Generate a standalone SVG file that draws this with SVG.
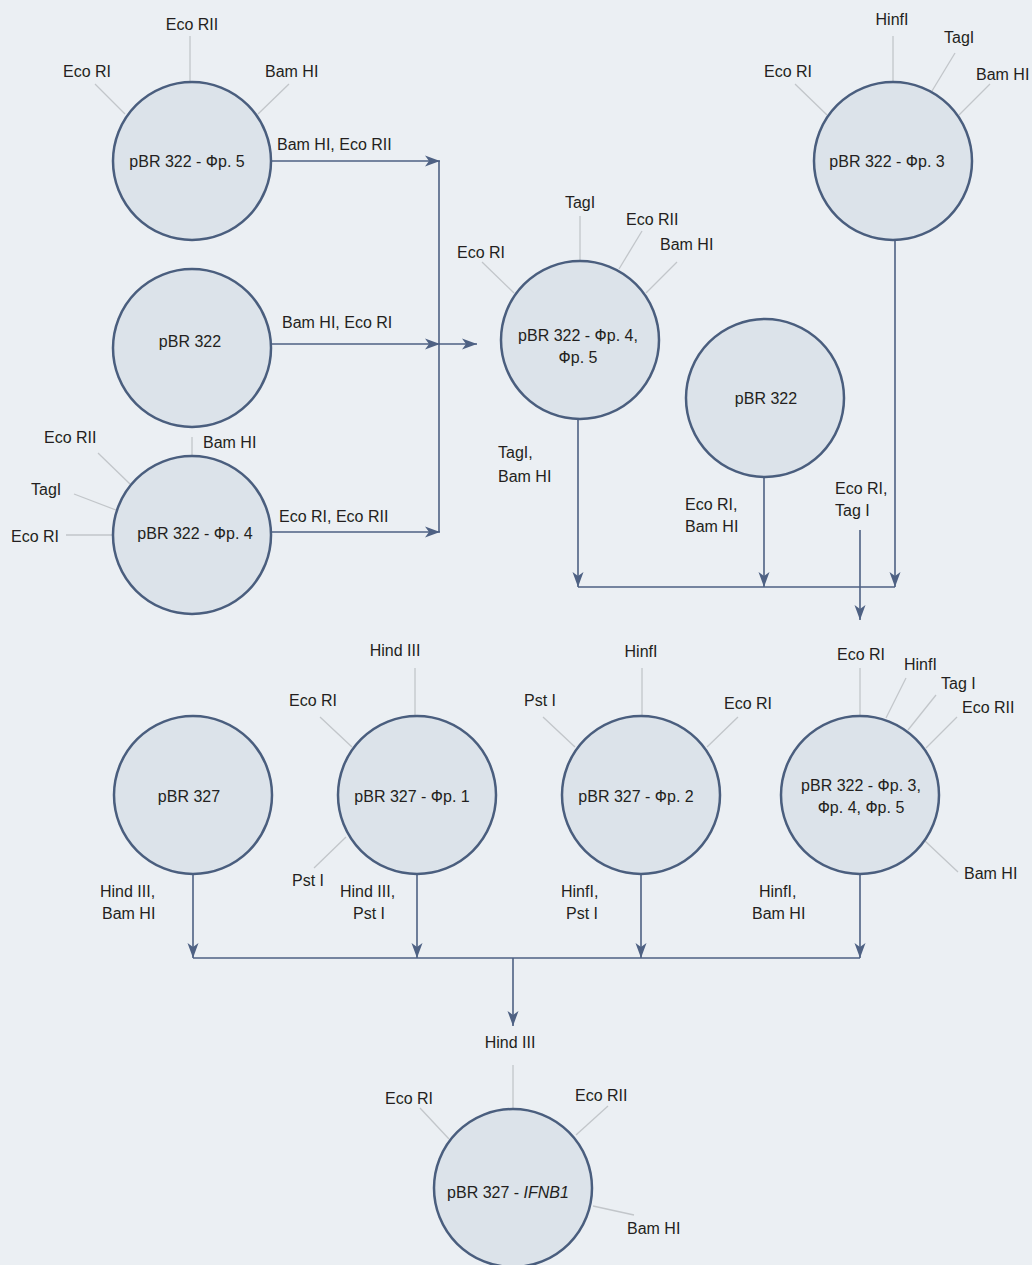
<svg xmlns="http://www.w3.org/2000/svg" width="1032" height="1265" viewBox="0 0 1032 1265">
<defs>
<marker id="ah" markerUnits="userSpaceOnUse" markerWidth="16" markerHeight="12" refX="15" refY="6" orient="auto">
<path d="M0,0.5 L15,6 L0,11.5 L4,6 z" fill="#4e6183"/>
</marker>
<style>
.bg{fill:#ebeff3}
.n{fill:#dce3ea;stroke:#4a5e7e;stroke-width:2.5}
.sp{stroke:#c2c6ca;stroke-width:1.3;fill:none}
.c{stroke:#4e6183;stroke-width:1.6;fill:none}
.ca{stroke:#4e6183;stroke-width:1.6;fill:none;marker-end:url(#ah)}
text{font-family:"Liberation Sans",Arial,sans-serif;font-size:16px;fill:#231f20}
.m{text-anchor:middle}
</style>
</defs>
<rect class="bg" x="0" y="0" width="1032" height="1265"/>

<g id="connectors">
<line class="ca" x1="271" y1="161" x2="440" y2="161"/>
<line class="c" x1="439" y1="161" x2="439" y2="532"/>
<line class="ca" x1="271" y1="344" x2="440" y2="344"/>
<line class="ca" x1="439" y1="344" x2="477" y2="344"/>
<line class="ca" x1="271" y1="532" x2="440" y2="532"/>
<text x="277" y="150">Bam HI, Eco RII</text>
<text x="282" y="328">Bam HI, Eco RI</text>
<text x="279" y="522">Eco RI, Eco RII</text>

<line class="ca" x1="578" y1="419" x2="578" y2="587"/>
<line class="ca" x1="764" y1="477" x2="764" y2="587"/>
<line class="ca" x1="895" y1="240" x2="895" y2="587"/>
<line class="c" x1="578" y1="587" x2="895" y2="587"/>
<line class="ca" x1="860" y1="530" x2="860" y2="620"/>
<text x="498" y="458">TagI,</text>
<text x="498" y="482">Bam HI</text>
<text x="685" y="510">Eco RI,</text>
<text x="685" y="532">Bam HI</text>
<text x="835" y="494">Eco RI,</text>
<text x="835" y="516">Tag I</text>

<line class="ca" x1="193" y1="874" x2="193" y2="958"/>
<line class="ca" x1="417" y1="874" x2="417" y2="958"/>
<line class="ca" x1="641" y1="874" x2="641" y2="958"/>
<line class="ca" x1="860" y1="874" x2="860" y2="958"/>
<line class="c" x1="193" y1="958" x2="860" y2="958"/>
<line class="ca" x1="513" y1="958" x2="513" y2="1026"/>
<text x="100" y="897">Hind III,</text>
<text x="102" y="919">Bam HI</text>
<text x="340" y="897">Hind III,</text>
<text x="353" y="919">Pst I</text>
<text x="561" y="897">HinfI,</text>
<text x="566" y="919">Pst I</text>
<text x="759" y="897">HinfI,</text>
<text x="752" y="919">Bam HI</text>
</g>

<g id="n-fr5">
<line class="sp" x1="190" y1="36" x2="190" y2="82"/>
<line class="sp" x1="95" y1="84" x2="125" y2="114"/>
<line class="sp" x1="289" y1="84" x2="258" y2="114"/>
<circle class="n" cx="192" cy="161" r="79"/>
<text class="m" x="187" y="167">pBR 322 - Фр. 5</text>
<text class="m" x="192" y="30">Eco RII</text>
<text x="63" y="77">Eco RI</text>
<text x="265" y="77">Bam HI</text>
</g>

<g id="n-pbr322a">
<circle class="n" cx="192" cy="348" r="79"/>
<text class="m" x="190" y="347">pBR 322</text>
</g>

<g id="n-fr4">
<line class="sp" x1="192" y1="437" x2="192" y2="456"/>
<line class="sp" x1="98" y1="453" x2="130" y2="484"/>
<line class="sp" x1="74" y1="494" x2="116" y2="510"/>
<line class="sp" x1="66" y1="535" x2="112" y2="535"/>
<circle class="n" cx="192" cy="535" r="79"/>
<text class="m" x="195" y="539">pBR 322 - Фр. 4</text>
<text x="203" y="448">Bam HI</text>
<text x="44" y="443">Eco RII</text>
<text x="31" y="495">TagI</text>
<text x="11" y="542">Eco RI</text>
</g>

<g id="n-fr45">
<line class="sp" x1="580" y1="216" x2="580" y2="261"/>
<line class="sp" x1="642" y1="231" x2="619" y2="269"/>
<line class="sp" x1="677" y1="262" x2="646" y2="293"/>
<line class="sp" x1="482" y1="262" x2="514" y2="293"/>
<circle class="n" cx="580" cy="340" r="79"/>
<text class="m" x="578" y="341">pBR 322 - Фр. 4,</text>
<text class="m" x="578" y="363">Фр. 5</text>
<text class="m" x="580" y="208">TagI</text>
<text x="626" y="225">Eco RII</text>
<text x="660" y="250">Bam HI</text>
<text x="457" y="258">Eco RI</text>
</g>

<g id="n-pbr322b">
<circle class="n" cx="765" cy="398" r="79"/>
<text class="m" x="766" y="404">pBR 322</text>
</g>

<g id="n-fr3">
<line class="sp" x1="893" y1="36" x2="893" y2="82"/>
<line class="sp" x1="955" y1="53" x2="932" y2="91"/>
<line class="sp" x1="990" y1="84" x2="959" y2="115"/>
<line class="sp" x1="795" y1="84" x2="827" y2="115"/>
<circle class="n" cx="893" cy="161" r="79"/>
<text class="m" x="887" y="167">pBR 322 - Фр. 3</text>
<text class="m" x="892" y="25">HinfI</text>
<text x="944" y="43">TagI</text>
<text x="976" y="80">Bam HI</text>
<text x="764" y="77">Eco RI</text>
</g>

<g id="n-pbr327">
<circle class="n" cx="193" cy="795" r="79"/>
<text class="m" x="189" y="802">pBR 327</text>
</g>

<g id="n-327fr1">
<line class="sp" x1="415" y1="668" x2="415" y2="716"/>
<line class="sp" x1="320" y1="717" x2="352" y2="747"/>
<line class="sp" x1="346" y1="837" x2="314" y2="868"/>
<circle class="n" cx="417" cy="795" r="79"/>
<text class="m" x="412" y="802">pBR 327 - Фр. 1</text>
<text class="m" x="395" y="656">Hind III</text>
<text x="289" y="706">Eco RI</text>
<text x="292" y="886">Pst I</text>
</g>

<g id="n-327fr2">
<line class="sp" x1="642" y1="668" x2="642" y2="716"/>
<line class="sp" x1="543" y1="717" x2="575" y2="747"/>
<line class="sp" x1="738" y1="717" x2="707" y2="747"/>
<circle class="n" cx="641" cy="795" r="79"/>
<text class="m" x="636" y="802">pBR 327 - Фр. 2</text>
<text class="m" x="641" y="657">HinfI</text>
<text x="524" y="706">Pst I</text>
<text x="724" y="709">Eco RI</text>
</g>

<g id="n-fr345">
<line class="sp" x1="860" y1="668" x2="860" y2="716"/>
<line class="sp" x1="906" y1="678" x2="886" y2="718"/>
<line class="sp" x1="936" y1="695" x2="908" y2="730"/>
<line class="sp" x1="957" y1="717" x2="926" y2="748"/>
<line class="sp" x1="925" y1="841" x2="958" y2="872"/>
<circle class="n" cx="860" cy="795" r="79"/>
<text class="m" x="861" y="791">pBR 322 - Фр. 3,</text>
<text class="m" x="861" y="813">Фр. 4, Фр. 5</text>
<text x="837" y="660">Eco RI</text>
<text x="904" y="670">HinfI</text>
<text x="941" y="689">Tag I</text>
<text x="962" y="713">Eco RII</text>
<text x="964" y="879">Bam HI</text>
</g>

<g id="n-ifnb1">
<line class="sp" x1="513" y1="1065" x2="513" y2="1110"/>
<line class="sp" x1="420" y1="1108" x2="449" y2="1139"/>
<line class="sp" x1="608" y1="1106" x2="576" y2="1135"/>
<line class="sp" x1="593" y1="1206" x2="634" y2="1215"/>
<circle class="n" cx="513" cy="1188" r="79"/>
<text class="m" x="508" y="1198">pBR 327 - <tspan font-style="italic">IFNB1</tspan></text>
<text class="m" x="510" y="1048">Hind III</text>
<text x="385" y="1104">Eco RI</text>
<text x="575" y="1101">Eco RII</text>
<text x="627" y="1234">Bam HI</text>
</g>
</svg>
